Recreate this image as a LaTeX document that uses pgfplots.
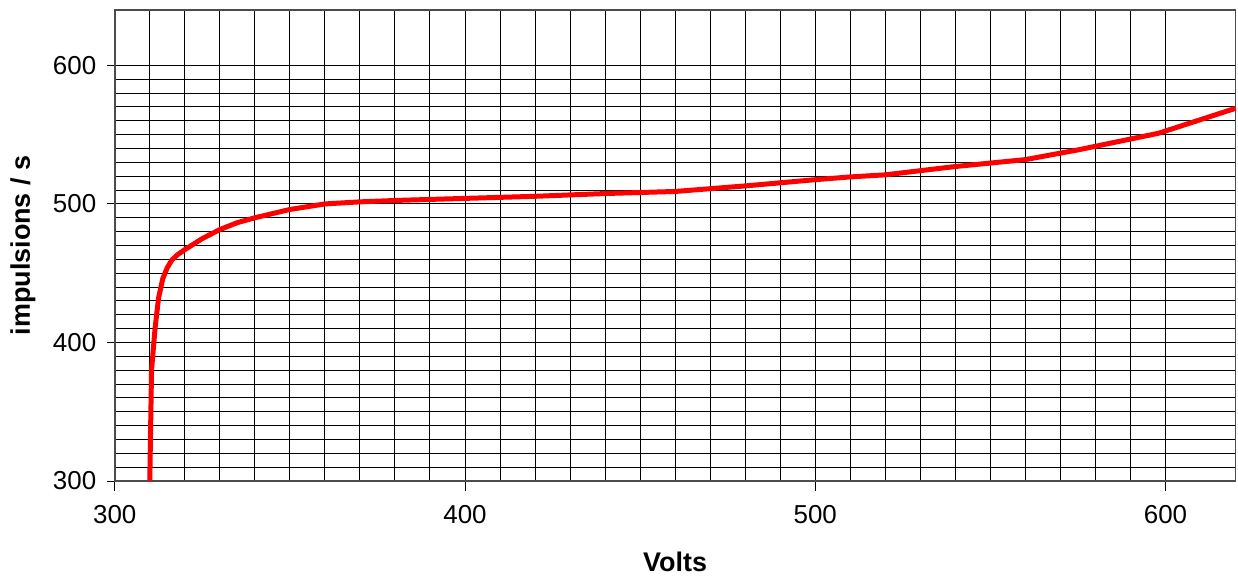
\documentclass[border=0pt]{standalone}
\usepackage{fontspec}
\setmainfont{Liberation Sans}
\usepackage{pgfplots}
\pgfplotsset{compat=1.18}

\begin{document}
\begin{tikzpicture}
\begin{axis}[
    scale only axis,
    width=561.5pt,
    height=236pt,
    xmin=300, xmax=620,
    ymin=300, ymax=640,
    xtick={300,400,500,600},
    ytick={300,400,500,600},
    minor x tick num=9,
    minor y tick num=9,
    grid=both,
    major grid style={black, line width=0.5pt},
    minor grid style={black, line width=0.5pt},
    axis line style={black!70, line width=0.9pt},
    tick align=center,
    major tick length=7.5pt,
    minor tick length=0pt,
    tick style={black, line width=0.5pt},
    x tick style={yshift=-1pt},
    xtick pos=bottom, ytick pos=left,
    tick label style={font=\fontsize{13}{15}\selectfont},
    /pgf/number format/assume math mode=true,
    xticklabel style={yshift=-5pt},
    yticklabel style={xshift=-2pt},
    xlabel={\textbf{Volts}},
    ylabel={\textbf{impulsions / s}},
    label style={font=\fontsize{13.5}{16}\selectfont},
    xlabel style={at={(axis description cs:0.5,-0.172)}, anchor=center},
    ylabel style={at={(axis description cs:-0.082,0.5)}, anchor=center},
    clip=false,
]
\addplot[red, line width=2.5pt, line join=round] coordinates {
(310,300) (310.5,380) (311.5,410) (312.5,432) (313.7,446) (315,454) (316.3,459.5)
(318,463.5) (320,467) (325,475) (330,481.5) (335,486.5) (340,490) (350,496) (360,500)
(370,501.5) (380,502.5) (400,504) (420,505.5) (440,507.5) (460,509)
(480,513) (500,517.5) (510,519.5) (520,521) (540,527) (560,532)
(575,539) (598,551) (620,569)
};
\path[use as bounding box] (rel axis cs:-0.1024,-0.214) rectangle (rel axis cs:1,1.0212);
\end{axis}
\end{tikzpicture}
\end{document}
